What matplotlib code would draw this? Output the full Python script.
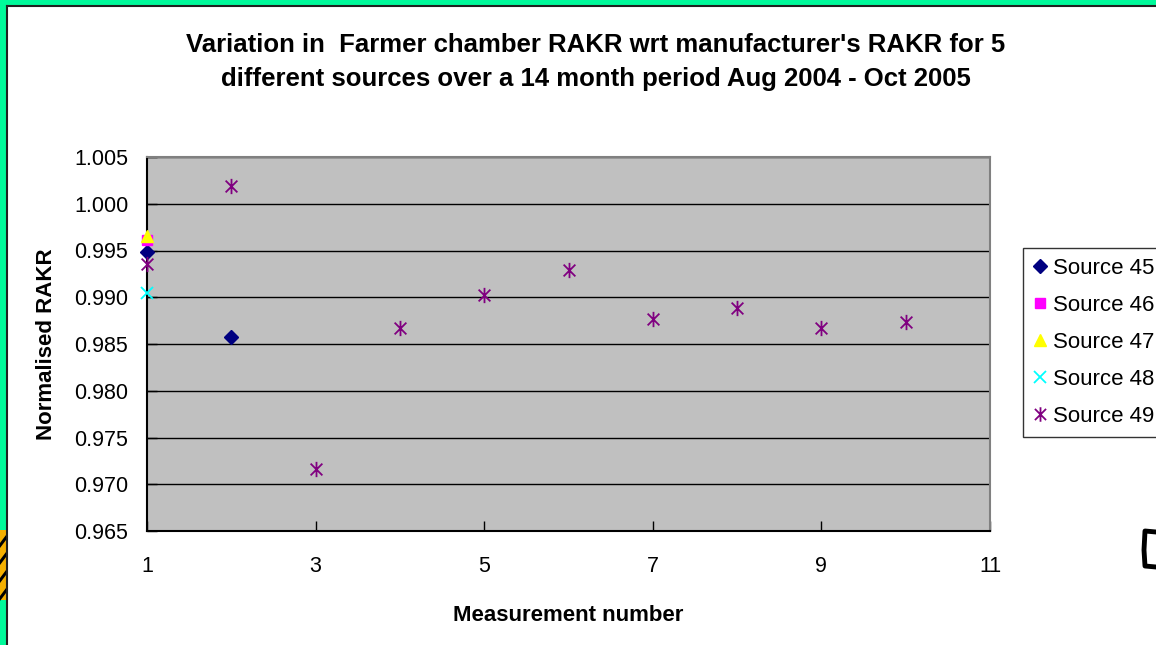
import matplotlib
matplotlib.use("Agg")
import matplotlib.pyplot as plt
from matplotlib.path import Path
from matplotlib.patches import Rectangle, Polygon

plt.rcParams['font.family'] = ['Liberation Sans', 'DejaVu Sans']

# Normalised RAKR readings per source (measurement number -> value)
src45_x = [1, 2]
src45_y = [0.9948, 0.9857]
src46_x = [1]
src46_y = [0.9961]
src47_x = [1]
src47_y = [0.9965]
src48_x = [1]
src48_y = [0.9905]
src49_x = [1, 2, 3, 4, 5, 6, 7, 8, 9, 10]
src49_y = [0.9936, 1.0019, 0.9716, 0.9867, 0.9902, 0.9929, 0.9877, 0.9888, 0.9867, 0.9873]

x_ticks = [1, 3, 5, 7, 9, 11]
y_ticks = [0.965, 0.970, 0.975, 0.980, 0.985, 0.990, 0.995, 1.000, 1.005]

W, H = 1156, 645
fig = plt.figure(figsize=(W / 100, H / 100), dpi=100)

# green frame on the top and left edges
fig.patches.append(Rectangle((0, 0), 6 / W, 1, transform=fig.transFigure,
                             facecolor='#00F99A', edgecolor='none', zorder=0))
fig.patches.append(Rectangle((0, 1 - 5 / H), 1, 5 / H, transform=fig.transFigure,
                             facecolor='#00F99A', edgecolor='none', zorder=0))
fig.lines.append(plt.Line2D([6.5 / W, 6.5 / W], [0, 1 - 5.5 / H], transform=fig.transFigure,
                            color='#202020', lw=1.5))
fig.lines.append(plt.Line2D([6.5 / W, 1], [1 - 5.5 / H, 1 - 5.5 / H], transform=fig.transFigure,
                            color='#202020', lw=1.5))
# striped strip at the lower left edge
fig.patches.append(Rectangle((0, 1 - 600 / H), 6 / W, 70 / H, transform=fig.transFigure,
                             facecolor='#F5B000', edgecolor='none', zorder=1))
for yy in [535, 552, 570, 588]:
    fig.patches.append(Polygon([(0, 1 - (yy + 8) / H), (6 / W, 1 - yy / H),
                                (6 / W, 1 - (yy + 5) / H), (0, 1 - (yy + 13) / H)],
                               closed=True, transform=fig.transFigure,
                               facecolor='black', edgecolor='none', zorder=2))
# bracket-shaped mark at the right edge
fig.lines.append(plt.Line2D([1156 / W, 1145 / W, 1144 / W, 1145 / W, 1156 / W],
                            [1 - 532 / H, 1 - 531 / H, 1 - 550 / H, 1 - 566 / H, 1 - 567 / H],
                            transform=fig.transFigure, color='black', lw=3.5,
                            solid_joinstyle='round'))

ax = fig.add_axes([147 / W, 1 - 531 / H, (990 - 147) / W, (531 - 157) / H])
ax.set_facecolor('#C0C0C0')

star = Path([(-1, -1), (1, 1), (-1, 1), (1, -1), (0, -1.3), (0, 1.3)],
            [Path.MOVETO, Path.LINETO, Path.MOVETO, Path.LINETO, Path.MOVETO, Path.LINETO])

ax.plot(src45_x, src45_y, linestyle='none', marker='D', markersize=7,
        color='#000080', label='Source 45', clip_on=False, zorder=3)
ax.plot(src46_x, src46_y, linestyle='none', marker='s', markersize=7,
        color='#FF00FF', label='Source 46', clip_on=False, zorder=3)
ax.plot(src47_x, src47_y, linestyle='none', marker='^', markersize=9,
        color='#FFFF00', label='Source 47', clip_on=False, zorder=3)
ax.plot(src48_x, src48_y, linestyle='none', marker='x', markersize=9, markeredgewidth=1.3,
        color='#00FFFF', label='Source 48', clip_on=False, zorder=3)
ax.plot(src49_x, src49_y, linestyle='none', marker=star, markersize=11, markeredgewidth=1.3,
        markerfacecolor='none', markeredgecolor='#800080', label='Source 49',
        clip_on=False, zorder=3)

ax.set_xlim(1, 11)
ax.set_ylim(0.965, 1.005)
ax.set_xticks(x_ticks)
ax.set_yticks(y_ticks)
ax.set_yticklabels(['%.3f' % v for v in y_ticks])
ax.yaxis.grid(True, color='black', lw=1)
ax.set_axisbelow(True)
ax.tick_params(axis='both', direction='in', length=7, width=1, labelsize=15.5, color='black')
ax.tick_params(axis='x', pad=18)
ax.tick_params(axis='y', pad=13.5)

ax.spines['left'].set_color('black')
ax.spines['bottom'].set_color('black')
ax.spines['top'].set_color('#808080')
ax.spines['right'].set_color('#808080')
for s in ax.spines.values():
    s.set_linewidth(1.5)

ax.set_xlabel('Measurement number', fontsize=16, fontweight='bold', labelpad=20)
ax.set_ylabel('Normalised RAKR', fontsize=16, fontweight='bold', labelpad=12)

fig.text(596 / W, 1 - 62 / H,
         "Variation in  Farmer chamber RAKR wrt manufacturer's RAKR for 5\n"
         "different sources over a 14 month period Aug 2004 - Oct 2005",
         ha='center', va='center', fontsize=18.5, fontweight='bold', linespacing=1.5)

leg = ax.legend(loc='upper left', bbox_to_anchor=(1023 / W, 1 - 248 / H),
                bbox_transform=fig.transFigure, fontsize=16, frameon=True,
                fancybox=False, edgecolor='black', borderpad=0.45, labelspacing=0.72,
                handlelength=0.6, handletextpad=0.3, borderaxespad=0, markerscale=0.95)
leg.get_frame().set_linewidth(1)

fig.savefig('out.png', dpi=100)
